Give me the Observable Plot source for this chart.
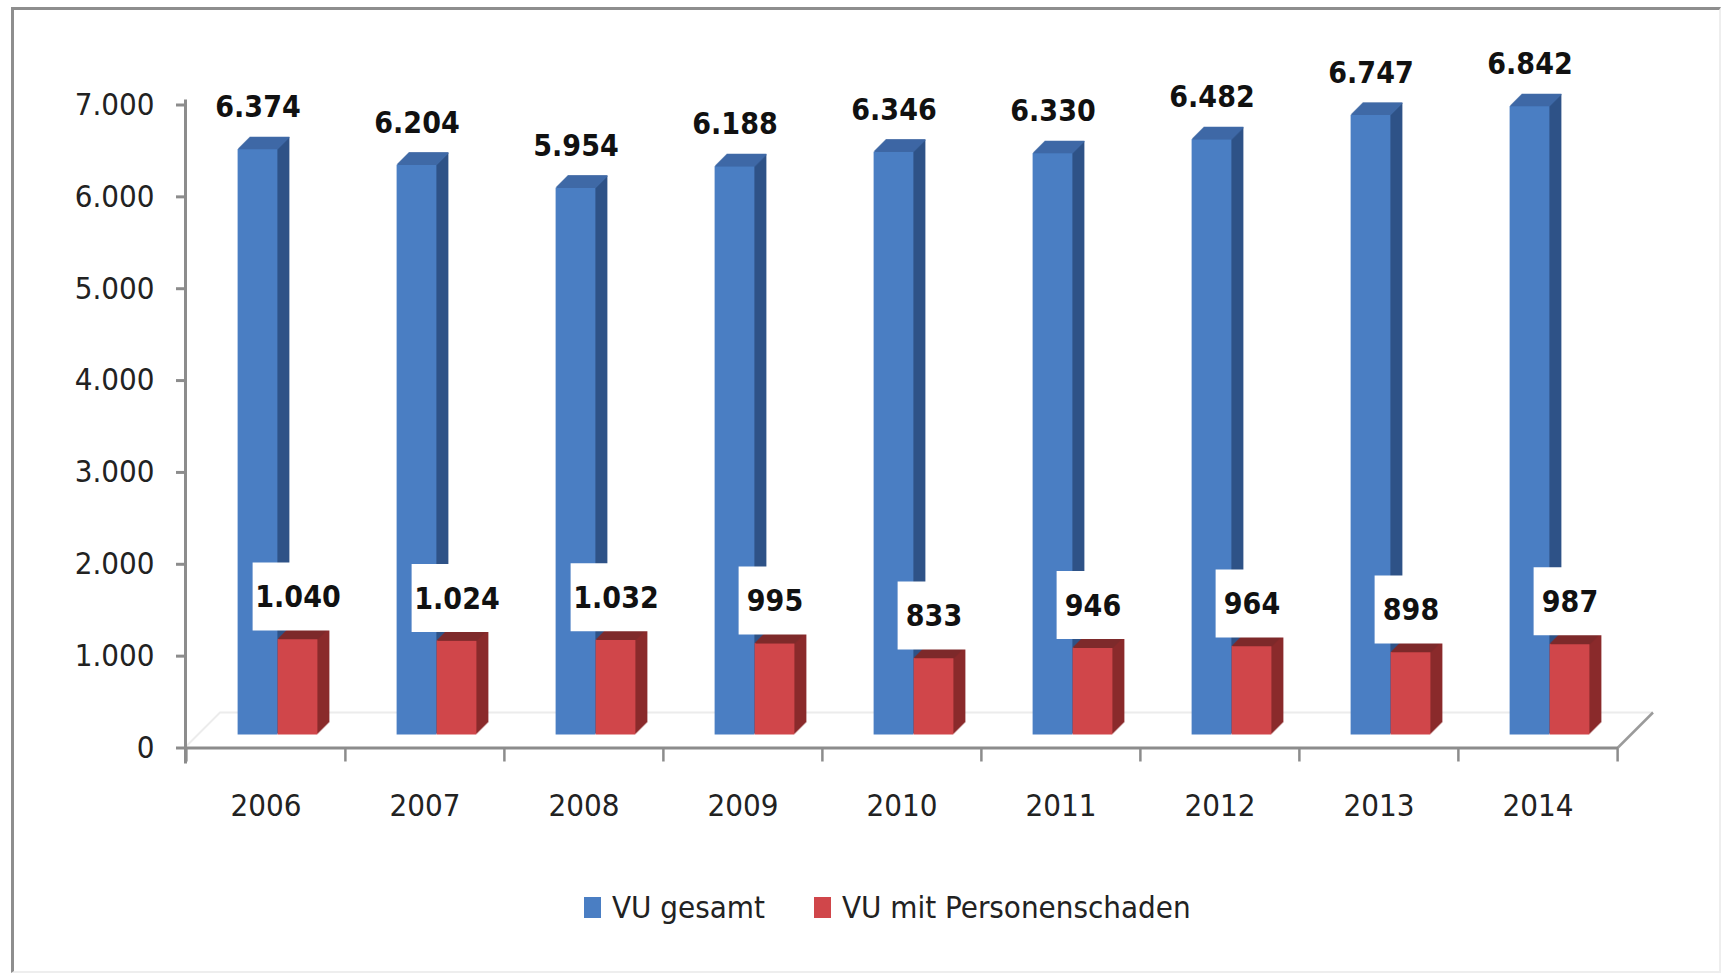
<!DOCTYPE html>
<html><head><meta charset="utf-8">
<script src="https://cdn.jsdelivr.net/npm/d3@7"></script>
<script src="https://cdn.jsdelivr.net/npm/@observablehq/plot@0.6"></script>
<style>
body{margin:0;background:#fff;width:1729px;height:973px;overflow:hidden;position:relative;font-family:"Liberation Sans Narrow","DejaVu Sans Condensed",sans-serif;}
#frame{position:absolute;left:11px;top:7px;width:1710px;height:966px;border-top:3px solid #8e8e8e;border-left:3px solid #8e8e8e;border-right:2px solid #eeeeee;border-bottom:2px solid #eeeeee;box-sizing:border-box;pointer-events:none}
#chart{position:absolute;left:0;top:0}
#legend{position:absolute;left:584px;top:889px;display:flex;align-items:center;font-size:31px;color:#222;white-space:nowrap}
#legend .sw{display:inline-block;width:17px;height:21px;margin-right:11px}
#legend .item{display:flex;align-items:center;margin-right:49px}
</style></head>
<body>
<div id="chart"></div>
<div id="legend"></div>
<div id="frame"></div>
<script>
// ---- data ----
const years = ["2006","2007","2008","2009","2010","2011","2012","2013","2014"];
const vuGesamt = [6374,6204,5954,6188,6346,6330,6482,6747,6842];
const vuPersonenschaden = [1040,1024,1032,995,833,946,964,898,987];
const seriesNames = ["VU gesamt","VU mit Personenschaden"];
const yTicks = [0,1000,2000,3000,4000,5000,6000,7000];

// ---- styles ----
const FONT = '"Liberation Sans Narrow","DejaVu Sans Condensed",sans-serif';
const blue = {front:"#4a7ec3", side:"#2f5388", top:"#3f69a6"};
const red  = {front:"#d0464a", side:"#8a2b2c", top:"#7e2a2b"};
const axisGray = "#8c8c8c";

const de = d3.formatLocale({decimal:",", thousands:".", grouping:[3], currency:["","€"]});
const fmt = de.format(",");

const rows = years.map((year,i)=>({year, gesamt: vuGesamt[i], personen: vuPersonenschaden[i]}));

// ---- layout ----
const W = 1729, H = 860, ML = 185, MR = 111, MT = 104.5, MB = 112.5;
const plotH = H - MT - MB;
const step = (W - ML - MR) / years.length;
const lift = 13, depth = 12, faceW = 40, shift = 12, floorD = 35;
const blueIns = {insetLeft: step/2 + shift - faceW, insetRight: step/2 - shift};
const redIns  = {insetLeft: step/2 + shift, insetRight: step/2 - shift - faceW};
const labelDy = -lift - 42;

function bar3d(key, col, ins) {
  const m = [];
  for (let k = depth; k >= 1; k--) {
    m.push(Plot.barY(rows, {x:"year", y:key, fill: col.side, ...ins, dx:k, dy:-lift-k}));
  }
  m.push(Plot.barY(rows, {x:"year", y:key, fill: col.front, ...ins, dy:-lift}));
  for (let k = 1; k <= depth; k++) {
    m.push(Plot.tickY(rows, {x:"year", y:key, stroke: col.top, strokeWidth:1.6, ...ins, dx:k, dy:-lift-k}));
  }
  return m;
}

const floor = (index, scales, values, dims) => {
  const g = d3.create("svg:g");
  const x0 = dims.marginLeft, x1 = dims.width - dims.marginRight, yb = dims.height - dims.marginBottom;
  g.append("path").attr("d", `M${x0},${yb}L${x0+floorD},${yb-floorD}L${x1+floorD},${yb-floorD}`)
    .attr("fill","none").attr("stroke","#ececec").attr("stroke-width",2);
  g.append("path").attr("d", `M${x1},${yb}L${x1+floorD},${yb-floorD}`)
    .attr("fill","none").attr("stroke","#9a9a9a").attr("stroke-width",2.5);
  return g.node();
};

const redCenter = step/2 + shift + faceW/2;
function boxMark(filterFn, w) {
  return Plot.tickY(rows.filter(filterFn), {x:"year", y:"personen", stroke:"#fff", strokeWidth:68,
    insetLeft: redCenter - w/2, insetRight: step - redCenter - w/2, dy: labelDy - 1});
}

const chart = Plot.plot({
  width: W, height: H,
  marginLeft: ML, marginRight: MR, marginTop: MT, marginBottom: MB,
  style: {fontFamily: FONT, background: "transparent", overflow: "visible"},
  x: {type:"band", domain: years, padding: 0, axis: null},
  y: {domain: [0, 7000], axis: null},
  marks: [
    floor,
    ...bar3d("gesamt", blue, blueIns),
    ...bar3d("personen", red, redIns),
    boxMark(d => fmt(d.personen).length > 3, 90),
    boxMark(d => fmt(d.personen).length <= 3, 72),
    Plot.text(rows, {x:"year", y:"gesamt", text: d => fmt(d.gesamt), dx: shift - faceW/2, dy: labelDy,
      fontSize: 30, fontWeight: "bold", fill: "#111", lineAnchor: "middle", fontFamily: FONT}),
    Plot.text(rows, {x:"year", y:"personen", text: d => fmt(d.personen), dx: shift + faceW/2, dy: labelDy,
      fontSize: 30, fontWeight: "bold", fill: "#111", lineAnchor: "middle", fontFamily: FONT}),
    Plot.ruleY([0], {stroke: axisGray, strokeWidth: 3}),
    Plot.frame({anchor: "left", stroke: axisGray, strokeWidth: 3, insetTop: -4, insetBottom: -14}),
    Plot.ruleX(years, {x: d => d, dx: -step/2, stroke: axisGray, strokeWidth: 2.5, insetTop: plotH, insetBottom: -14}),
    Plot.ruleX([years[years.length-1]], {x: d => d, dx: step/2, stroke: axisGray, strokeWidth: 2.5, insetTop: plotH, insetBottom: -14}),
    Plot.axisY(yTicks, {tickFormat: fmt, tickSize: 9, tickPadding: 22, fontSize: 31, stroke: axisGray, strokeWidth: 3, fill: "#222", label: null, fontFamily: FONT}),
    Plot.axisX({tickSize: 0, tickPadding: 46, fontSize: 31, fill: "#222", label: null, fontFamily: FONT})
  ]
});
document.getElementById("chart").appendChild(chart);

// legend
const legend = d3.select("#legend");
[[seriesNames[0], blue.front],[seriesNames[1], red.front]].forEach(([name,c]) => {
  const it = legend.append("span").attr("class","item");
  it.append("span").attr("class","sw").style("background", c);
  it.append("span").text(name);
});
</script>
</body></html>
